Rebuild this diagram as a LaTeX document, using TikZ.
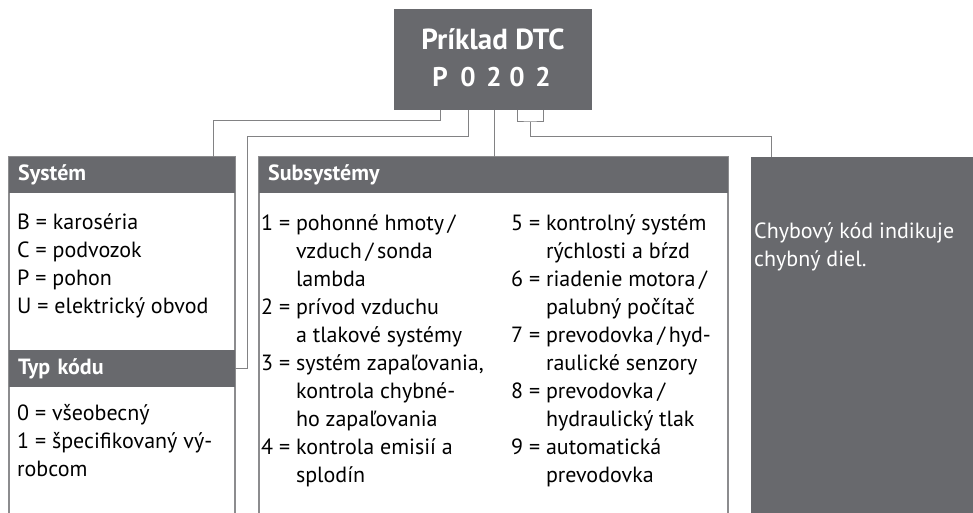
\documentclass[tikz,border=0pt]{standalone}
\usepackage{fontspec}
\setmainfont{PT Sans}
\usepackage{tikz}
\usetikzlibrary{calc,positioning}
\definecolor{dtcGray}{RGB}{104,105,109}
\definecolor{dtcLine}{RGB}{130,130,132}
\definecolor{dtcFrame}{RGB}{140,140,142}

\begin{document}
\begin{tikzpicture}[x=1pt,y=-1pt,
  every node/.style={inner sep=0pt, font=\fontsize{22}{28}\selectfont},
  link/.style={dtcLine, line width=1pt},
  frame/.style={dtcFrame, line width=1.1pt},
  head/.style={fill=dtcGray, text=white, font=\fontsize{22}{28}\selectfont\bfseries,
    anchor=north west, minimum height=36pt, inner xsep=9pt, align=left},
  digit/.style={text=white, anchor=base, font=\fontsize{27}{30}\selectfont\bfseries}]
\useasboundingbox (0,0) rectangle (973,513);
% DTC example box
\node[fill=dtcGray, minimum width=198pt, minimum height=101pt] (dtc) at (493,59.5) {};
\node[digit, font=\fontsize{29}{32}\selectfont\bfseries] (title) at (493,50) {Príklad DTC};
\node[digit] (dP) at (440,87) {P};
\node[digit] (d1) at (468,87) {0};
\node[digit] (d2) at (494,87) {2};
\node[digit] (d3) at (517,87) {0};
\node[digit] (d4) at (543,87) {2};
% columns
\draw[frame] (9,513) |- (235,157) -- (235,513);
\draw[frame] (259,513) |- (728,157) -- (728,513);
\node[head, text width=208pt] (syshead) at (9,157) {Systém};
\node[head, text width=208pt, minimum height=37pt] (typhead) at (9,350) {Typ kódu};
\node[head, text width=451pt] (subhead) at (259,157) {Subsystémy};
\node[fill=dtcGray, anchor=north west, minimum width=222pt, minimum height=356pt] (errbox) at (751,157) {};
% texts
\node[anchor=base west] (systext) at (17,229) {\begin{tabular}[t]{@{}l@{}}
B = karoséria\\ C = podvozok\\ P = pohon\\ U = elektrický obvod\end{tabular}};
\node[anchor=base west] (typtext) at (17,420) {\begin{tabular}[t]{@{}l@{}}
0 = všeobecný\\ 1 = špecifikovaný vý-\\ robcom\end{tabular}};
\node[anchor=base west] (subleft) at (261,230) {\begin{tabular}[t]{@{}l@{ }l@{}}
1 = & pohonné hmoty\,/\\ & vzduch\,/\,sonda\\ & lambda\\
2 = & prívod vzduchu\\ & a tlakové systémy\\
3 = & systém zapaľovania,\\ & kontrola chybné-\\ & ho zapaľovania\\
4 = & kontrola emisií a\\ & splodín\end{tabular}};
\node[anchor=base west] (subright) at (511,230) {\begin{tabular}[t]{@{}l@{ }l@{}}
5 = & kontrolný systém\\ & rýchlosti a bŕzd\\
6 = & riadenie motora\,/\\ & palubný počítač\\
7 = & prevodovka\,/\,hyd-\\ & raulické senzory\\
8 = & prevodovka\,/\\ & hydraulický tlak\\
9 = & automatická\\ & prevodovka\end{tabular}};
\node[anchor=base west, text=white] (errtext) at (754,238) {\begin{tabular}[t]{@{}l@{}}
Chybový kód indikuje\\ chybný diel.\end{tabular}};
% connectors
\coordinate (kType) at (247,137);
\coordinate (kFault) at (530,122);
\draw[link] (dP |- dtc.south) -- ++(0,10) -| ([xshift=-22pt]syshead.north east);
\draw[link] (d1 |- dtc.south) |- (kType) |- (typhead.east);
\draw[link] (d2 |- dtc.south) -- (d2 |- subhead.north);
\draw[link] (d3 |- dtc.south) |- (kFault) -| (d4 |- dtc.south);
\draw[link] (kFault) -- ++(0,15) -| ([xshift=20pt]errbox.north west);
\end{tikzpicture}
\end{document}
